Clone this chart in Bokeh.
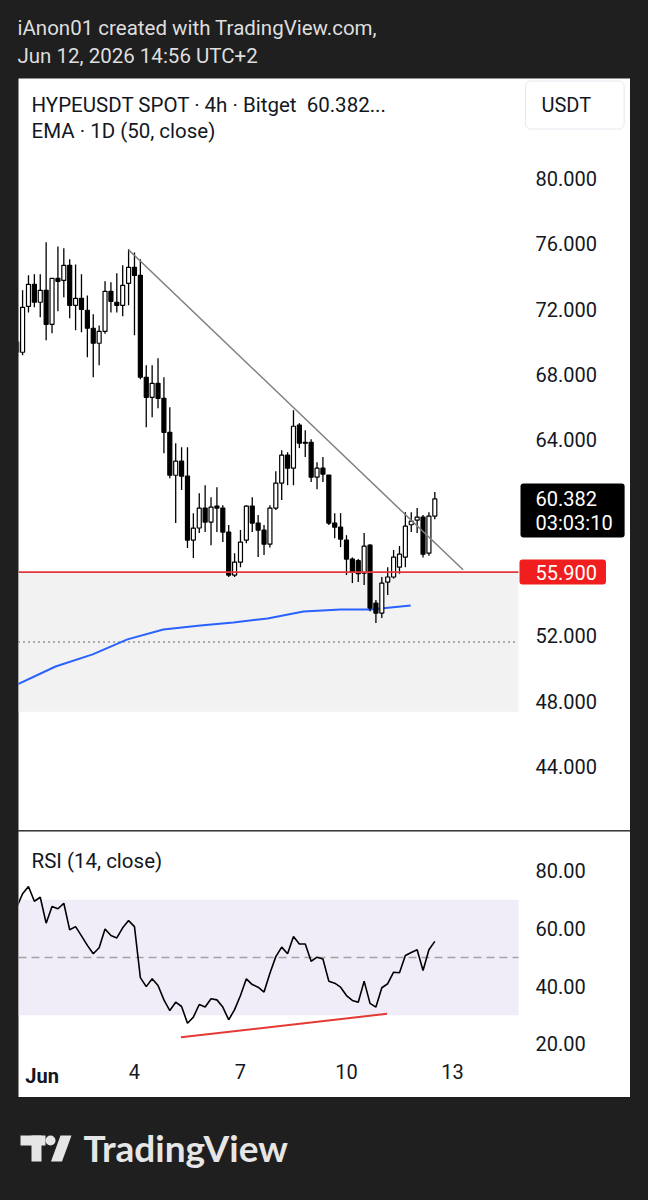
from bokeh.plotting import figure
from bokeh.models import (Range1d, LinearAxis, FixedTicker, BoxAnnotation, Label,
                          ColumnDataSource, Spacer, Div, PrintfTickFormatter)
from bokeh.layouts import column, row
from bokeh.embed import file_html
from bokeh.resources import INLINE
from bokeh.core.properties import value

# ---------------- data (4h candles, index 0 = May 31 16:00) ----------------
opens = [70.00, 69.36, 72.17, 73.52, 72.42, 73.15, 71.07, 73.88, 73.76, 74.68,
         72.23, 72.66, 71.93, 70.83, 69.91, 70.64, 73.09, 72.42, 72.23, 73.58,
         74.56, 74.07, 67.83, 66.60, 67.46, 66.54, 64.46, 61.83, 62.69, 61.77,
         57.86, 58.60, 59.82, 58.96, 59.94, 59.82, 58.35, 55.72, 56.51, 57.86,
         59.94, 58.90, 58.47, 57.61, 59.82, 61.35, 63.06, 62.26, 64.90, 63.85,
         63.85, 61.71, 62.26, 61.84, 58.90, 58.65, 57.86, 56.70, 56.60, 55.84,
         57.55, 54.00, 53.39, 55.29, 55.60, 56.20, 56.82, 58.80, 59.08, 59.27,
         57.06, 59.33]
highs = [71.20, 73.15, 74.07, 74.13, 74.13, 76.09, 73.90, 75.84, 75.72, 75.05,
         74.74, 74.13, 72.84, 71.68, 71.00, 73.70, 73.64, 74.19, 74.68, 75.66,
         75.47, 75.05, 68.56, 68.56, 69.00, 67.83, 66.00, 63.79, 63.55, 63.55,
         59.51, 60.73, 61.22, 60.49, 61.10, 60.00, 58.78, 57.06, 58.47, 60.00,
         60.49, 59.39, 58.78, 60.00, 62.08, 63.36, 63.24, 65.81, 65.02, 64.59,
         64.04, 62.63, 62.94, 61.84, 59.51, 59.51, 58.16, 56.80, 56.70, 58.29,
         57.60, 54.19, 55.60, 56.20, 57.25, 57.50, 59.57, 59.57, 59.82, 59.39,
         59.57, 60.80]
lows = [68.90, 69.17, 71.80, 72.11, 71.50, 70.09, 70.52, 71.87, 72.72, 71.44,
        70.70, 70.58, 69.05, 67.83, 68.56, 70.50, 71.80, 71.80, 71.56, 72.23,
        70.40, 67.70, 64.77, 65.38, 65.93, 63.18, 61.65, 58.90, 60.92, 57.37,
        56.76, 58.29, 58.35, 57.55, 58.35, 57.74, 55.60, 55.60, 56.20, 57.67,
        58.35, 56.82, 56.94, 57.40, 59.70, 60.31, 61.22, 61.22, 63.49, 62.94,
        61.41, 60.98, 61.41, 58.78, 57.98, 57.43, 55.72, 55.23, 55.30, 55.11,
        53.50, 52.78, 53.09, 54.50, 55.50, 55.80, 56.20, 58.35, 58.29, 56.80,
        56.90, 59.14]
closes = [69.36, 72.11, 73.52, 72.42, 73.15, 71.07, 73.88, 73.70, 74.68, 72.23,
          72.66, 71.99, 70.83, 69.91, 70.64, 73.09, 72.48, 72.23, 73.46, 74.56,
          74.07, 67.83, 66.60, 67.46, 66.54, 64.46, 61.83, 62.69, 61.77, 57.86,
          58.59, 59.82, 58.96, 59.88, 59.82, 58.35, 55.72, 56.51, 57.74, 59.94,
          58.90, 58.47, 57.61, 59.82, 61.35, 63.06, 62.26, 64.83, 63.79, 63.79,
          61.71, 62.26, 61.90, 58.90, 58.65, 57.92, 56.70, 55.90, 55.80, 57.49,
          53.70, 53.39, 55.23, 55.60, 56.82, 57.00, 58.71, 59.02, 59.27, 57.00,
          59.33, 60.38]

rsi = [67.4, 72.1, 74.6, 69.5, 70.9, 61.9, 67.7, 66.9, 68.8, 59.6,
       60.7, 57.5, 54.2, 51.3, 53.4, 59.9, 57.6, 56.8, 60.3, 62.8,
       60.7, 43.0, 39.9, 42.6, 40.3, 35.3, 31.6, 34.5, 33.0, 27.2,
       29.3, 33.7, 32.8, 35.7, 35.3, 32.8, 28.4, 31.9, 36.8, 42.6,
       40.6, 39.7, 38.0, 44.5, 50.3, 53.6, 51.3, 57.3, 54.7, 54.7,
       48.7, 50.1, 49.5, 41.8, 41.1, 39.7, 36.8, 35.1, 34.5, 41.8,
       34.1, 32.8, 39.5, 40.9, 44.9, 44.7, 50.7, 51.7, 52.7, 45.5,
       52.7, 55.6]

# daily EMA(50) vertices (candle index, value)
ema_idx = [0.1, 6.6, 12.9, 18.8, 24.9, 31.2, 36.8, 42.6, 48.7, 55.0, 60.1, 66.9]
ema_val = [49.02, 50.12, 50.86, 51.78, 52.39, 52.63, 52.82, 53.06, 53.49, 53.61, 53.61, 53.86]

# drawings
trend_idx = [19.0, 75.8]
trend_val = [75.63, 56.04]
support_level = 55.90
zone_bottom = 47.35
dotted_level = 51.62
div_idx = [27.9, 62.9]
div_val = [22.35, 30.47]

price_ticks = [44, 48, 52, 64, 68, 72, 76, 80]
rsi_ticks = [20, 40, 60, 80]
day_ticks = [2, 20, 38, 56, 74]
day_labels = ["Jun", "4", "7", "10", "13"]
last_price = "60.382"
countdown = "03:03:10"

DARK = "#1f1f1f"
TXT = "#131722"
FONT = "Roboto"

X_START = 0.306     # left edge of the panel (candle index units)
X_END = 85.21       # right edge of the plotting area / price scale
X_PANEL = 104.23    # right edge of the white panel

# ---------------- header ----------------
header = figure(width=648, height=78, x_range=Range1d(0, 648), y_range=Range1d(78, 0),
                output_backend="svg", toolbar_location=None,
                x_axis_location=None, y_axis_location=None,
                min_border=0, background_fill_color=DARK, border_fill_color=DARK,
                outline_line_color=None)
header.grid.visible = False
header.text(x=[17, 17], y=[27, 55],
            text=["iAnon01 created with TradingView.com,", "Jun 12, 2026 14:56 UTC+2"],
            text_font=value(FONT), text_font_size="20.5px", text_color="#dedede",
            text_baseline="middle", text_align="left")


def axis_style(ax, standoff):
    ax.axis_line_color = None
    ax.major_tick_line_color = None
    ax.minor_tick_line_color = None
    ax.major_tick_out = 0
    ax.major_tick_in = 0
    ax.major_label_standoff = standoff
    ax.major_label_text_font = FONT
    ax.major_label_text_font_size = "20px"
    ax.major_label_text_color = TXT


# ---------------- price pane ----------------
price = figure(width=612, height=752, x_range=Range1d(X_START, X_PANEL), y_range=Range1d(40.08, 86.12),
               output_backend="svg", toolbar_location=None,
               x_axis_location=None, y_axis_location=None,
               min_border=0,
               background_fill_color="white", border_fill_color="white",
               outline_line_color=None)
price.grid.visible = False

price.add_layout(BoxAnnotation(bottom=zone_bottom, top=support_level, right=X_END,
                               fill_color="#f2f2f2", fill_alpha=1.0, line_color=None,
                               level="underlay"))
price.segment(x0=[X_START], x1=[X_END], y0=[dotted_level], y1=[dotted_level],
              line_color="#3a3a3a", line_width=1.5, line_dash="1 4")

idx = list(range(len(opens)))
src = ColumnDataSource(dict(
    x=idx,
    top=[max(o, c) for o, c in zip(opens, closes)],
    bottom=[min(o, c) for o, c in zip(opens, closes)],
    high=highs, low=lows,
    color=["white" if c >= o else "black" for o, c in zip(opens, closes)],
))

price.line(ema_idx, ema_val, line_color="#2962ff", line_width=2)
price.segment(x0="x", x1="x", y0="low", y1="high", source=src, line_color="black", line_width=1.3)
price.vbar(x="x", top="top", bottom="bottom", width=0.68, source=src,
           fill_color="color", line_color="black", line_width=1.2)

price.segment(x0=[X_START], x1=[X_END], y0=[support_level], y1=[support_level],
              line_color="#e0393b", line_width=1.6)
price.line(trend_idx, trend_val, line_color="#808080", line_width=1.5)

yax = LinearAxis(ticker=FixedTicker(ticks=price_ticks),
                 formatter=PrintfTickFormatter(format="%.3f"), fixed_location=X_END)
axis_style(yax, 17)
price.add_layout(yax, "right")

price.add_layout(Label(x=13, y=726, x_units="screen", y_units="screen",
                       text="HYPEUSDT SPOT · 4h · Bitget\u00a0 60.382...",
                       text_font=FONT, text_font_size="20.5px", text_color=TXT,
                       text_baseline="middle"))
price.add_layout(Label(x=13, y=700, x_units="screen", y_units="screen",
                       text="EMA · 1D (50, close)",
                       text_font=FONT, text_font_size="20.5px", text_color=TXT,
                       text_baseline="middle"))
# padding given as (left, right, top, bottom); the anchor is the box edge
price.add_layout(Label(x=507, y=725.5, x_units="screen", y_units="screen",
                       text="USDT", text_font=FONT, text_font_size="20px", text_color=TXT,
                       text_baseline="middle",
                       background_fill_color="white", border_line_color="#e6e8ee",
                       border_line_width=1, border_radius=5,
                       padding=(16, 33, 12, 12)))
price.add_layout(Label(x=502, y=320, x_units="screen", y_units="screen",
                       text=last_price + "\n" + countdown,
                       text_font=FONT, text_font_size="20px", text_color="white",
                       text_baseline="middle", text_line_height=1.0,
                       background_fill_color="black", border_radius=3,
                       padding=(15, 12, 3, 3)))
price.add_layout(Label(x=501, y=support_level, x_units="screen", y_units="data",
                       text="%.3f" % support_level,
                       text_font=FONT, text_font_size="20px", text_color="white",
                       text_baseline="middle",
                       background_fill_color="#f01e1e", border_radius=3,
                       padding=(16, 9, 5, 5)))

divider = Div(width=612, height=1, margin=0, styles={"background-color": "#3a3a3a"})

# ---------------- RSI pane (frame extends over the time scale) ----------------
RSI_LO, RSI_HI = 1.44, 93.70
RSI_AXIS = 17.74   # level of the time scale (bottom of the RSI area)
rsip = figure(width=612, height=266, x_range=Range1d(X_START, X_PANEL), y_range=Range1d(RSI_LO, RSI_HI),
              output_backend="svg", toolbar_location=None,
              x_axis_location=None, y_axis_location=None,
              min_border=0,
              background_fill_color="white", border_fill_color="white",
              outline_line_color=None)
rsip.grid.visible = False
rsip.add_layout(BoxAnnotation(bottom=30, top=70, right=X_END, fill_color="#f0edf9", fill_alpha=1.0,
                              line_color=None, level="underlay"))
rsip.segment(x0=[X_START], x1=[X_END], y0=[50], y1=[50], line_color="#a3a3a3",
             line_width=1.3, line_dash="8 5")
rsip.line(idx, rsi, line_color="black", line_width=1.6)
rsip.line(div_idx, div_val, line_color="#e53935", line_width=2)

ry = LinearAxis(ticker=FixedTicker(ticks=rsi_ticks), formatter=PrintfTickFormatter(format="%.2f"),
                fixed_location=X_END)
axis_style(ry, 17)
rsip.add_layout(ry, "right")

rx = LinearAxis(ticker=FixedTicker(ticks=day_ticks[1:]), fixed_location=RSI_AXIS)
rx.major_label_overrides = {t: lab for t, lab in zip(day_ticks[1:], day_labels[1:])}
axis_style(rx, 13)
rsip.add_layout(rx, "below")

rx_month = LinearAxis(ticker=FixedTicker(ticks=day_ticks[:1]), fixed_location=RSI_AXIS)
rx_month.major_label_overrides = {day_ticks[0]: day_labels[0]}
axis_style(rx_month, 13)
rx_month.major_label_text_font_style = "bold"
rsip.add_layout(rx_month, "below")

rsip.add_layout(Label(x=13, y=237, x_units="screen", y_units="screen",
                      text="RSI (14, close)", text_font=FONT, text_font_size="20.5px",
                      text_color=TXT, text_baseline="middle"))

# ---------------- footer ----------------
footer = figure(width=648, height=103, x_range=Range1d(0, 648), y_range=Range1d(103, 0),
                output_backend="svg", toolbar_location=None,
                x_axis_location=None, y_axis_location=None,
                min_border=0, background_fill_color=DARK, border_fill_color=DARK,
                outline_line_color=None)
footer.grid.visible = False
LOGO = "#e6e6e6"
footer.quad(left=[20, 31], right=[45, 41], top=[38, 38], bottom=[48, 64],
            fill_color=LOGO, line_color=None)
footer.circle(x=[50], y=[43], radius=5, fill_color=LOGO, line_color=None)
footer.patch(x=[60, 71, 61.5, 50.5], y=[38, 38, 64, 64], fill_color=LOGO, line_color=None)
footer.text(x=[83], y=[50], text=["TradingView"], text_font=value("Lato"),
            text_font_size="37px", text_font_style="bold", text_color=LOGO,
            text_baseline="middle")

chart_col = column(price, divider, rsip, spacing=0)
mid = row(Spacer(width=18, height=1019), chart_col, Spacer(width=18, height=1019), spacing=0)
page = column(header, mid, footer, spacing=0, styles={"background-color": DARK})

open("out.html", "w").write(file_html(page, INLINE, title="HYPEUSDT"))
